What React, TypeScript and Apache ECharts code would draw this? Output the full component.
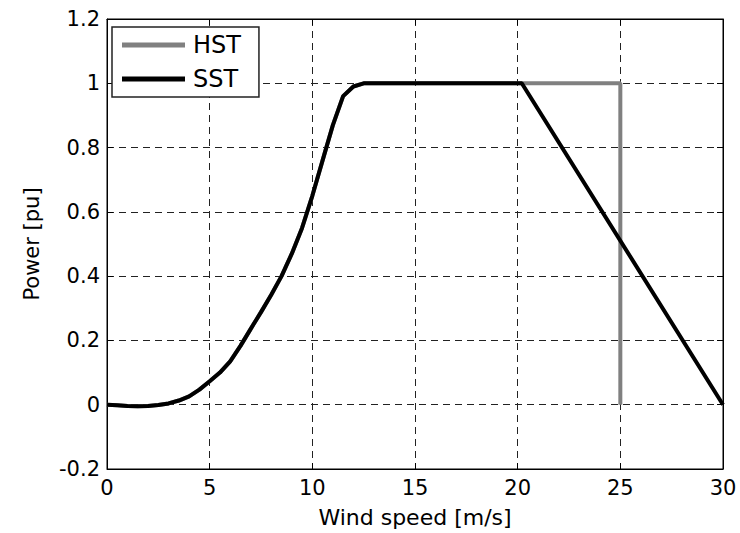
import React, { useEffect, useRef } from "react";
import * as echarts from "echarts";

// Shared part of both power curves (wind speed m/s, power pu)
const rampWind = [0, 0.5, 1, 1.5, 2, 2.5, 3, 3.5, 4, 4.5, 5, 5.5, 6, 6.5, 7, 7.5, 8, 8.5, 9, 9.5, 10, 10.5, 11, 11.5, 12, 12.5, 20.2];
const rampPower = [0, -0.002, -0.004, -0.005, -0.004, -0.001, 0.004, 0.013, 0.026, 0.047, 0.073, 0.1, 0.135, 0.183, 0.236, 0.288, 0.342, 0.4, 0.47, 0.55, 0.65, 0.76, 0.87, 0.96, 0.99, 1, 1];

// Hard storm shutdown tail
const hstTailWind = [25, 25];
const hstTailPower = [1, 0];

// Soft storm shutdown tail
const sstTailWind = [30];
const sstTailPower = [0];

const xTicks = { min: 0, max: 30, interval: 5 };
const yTicks = { min: -0.2, max: 1.2, interval: 0.2 };

const seriesNames = ["HST", "SST"];

const FONT = "DejaVu Sans";

export default function App() {
  const ref = useRef<HTMLDivElement>(null);
  useEffect(() => {
    if (!ref.current) return;
    const chart = echarts.init(ref.current, null, { renderer: "svg" });
    const pairs = (xs: number[], ys: number[]) => xs.map((x, i) => [x, ys[i]]);
    const hst = pairs(rampWind.concat(hstTailWind), rampPower.concat(hstTailPower));
    const sst = pairs(rampWind.concat(sstTailWind), rampPower.concat(sstTailPower));
    const gridLine = { show: true, lineStyle: { color: "#222", type: [7, 5], width: 1 } };
    chart.setOption({
      animation: false,
      backgroundColor: "#fff",
      grid: { left: 107, right: 17, top: 19, bottom: 58, show: true, borderColor: "#000", borderWidth: 1 },
      legend: {
        left: 112,
        top: 27,
        orient: "vertical",
        data: seriesNames,
        icon: "rect",
        itemWidth: 63,
        itemHeight: 5,
        itemGap: 10,
        padding: [6, 18, 6, 10],
        backgroundColor: "#fff",
        borderColor: "#222",
        borderWidth: 1.5,
        borderRadius: 0,
        textStyle: { fontFamily: FONT, fontSize: 24, color: "#000", padding: [0, 0, 0, 3] },
      },
      xAxis: [
        {
          type: "value",
          ...xTicks,
          position: "bottom",
          name: "Wind speed [m/s]",
          nameLocation: "middle",
          nameGap: 37,
          nameTextStyle: { fontFamily: FONT, fontSize: 22, color: "#000" },
          axisLine: { show: true, onZero: false, lineStyle: { color: "#000", width: 1 } },
          axisTick: { show: true, inside: true, length: 6, lineStyle: { color: "#000" } },
          axisLabel: { fontFamily: FONT, fontSize: 21, color: "#000", margin: 8 },
          splitLine: gridLine,
        },
        {
          type: "value",
          ...xTicks,
          position: "top",
          axisLine: { show: true, onZero: false, lineStyle: { color: "#000", width: 1 } },
          axisTick: { show: true, inside: true, length: 6, lineStyle: { color: "#000" } },
          axisLabel: { show: false },
          splitLine: { show: false },
        },
      ],
      yAxis: [
        {
          type: "value",
          ...yTicks,
          position: "left",
          name: "Power [pu]",
          nameLocation: "middle",
          nameGap: 65,
          nameTextStyle: { fontFamily: FONT, fontSize: 21, color: "#000" },
          axisLine: { show: true, onZero: false, lineStyle: { color: "#000", width: 1 } },
          axisTick: { show: true, inside: true, length: 6, lineStyle: { color: "#000" } },
          axisLabel: {
            fontFamily: FONT,
            fontSize: 21,
            color: "#000",
            margin: 7,
            formatter: (v: number) => String(Math.round(v * 10) / 10),
          },
          splitLine: gridLine,
        },
        {
          type: "value",
          ...yTicks,
          position: "right",
          axisLine: { show: true, onZero: false, lineStyle: { color: "#000", width: 1 } },
          axisTick: { show: true, inside: true, length: 6, lineStyle: { color: "#000" } },
          axisLabel: { show: false },
          splitLine: { show: false },
        },
      ],
      series: [
        {
          name: seriesNames[0],
          type: "line",
          data: hst,
          showSymbol: false,
          symbol: "none",
          lineStyle: { color: "#808080", width: 4 },
          itemStyle: { color: "#808080" },
          z: 2,
        },
        {
          name: seriesNames[1],
          type: "line",
          data: sst,
          showSymbol: false,
          symbol: "none",
          lineStyle: { color: "#000", width: 4 },
          itemStyle: { color: "#000" },
          z: 3,
        },
      ],
    });
    return () => chart.dispose();
  }, []);
  return (
    <div
      ref={ref}
      style={{ position: "fixed", left: 0, top: 0, width: 740, height: 533, background: "#fff" }}
    />
  );
}
